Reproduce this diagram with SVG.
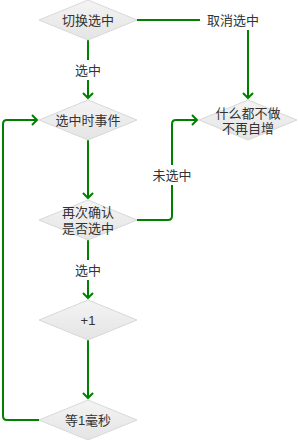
<svg xmlns="http://www.w3.org/2000/svg" width="298" height="440" viewBox="0 0 298 440">
<style>
.node polygon{fill:url(#g);stroke:#d8d8d8;stroke-width:1}
text{font-family:"Liberation Sans","Noto Sans CJK SC",sans-serif;font-size:13px;fill:#333;text-anchor:middle;dominant-baseline:central}
.edge{fill:none;stroke:#008000;stroke-width:2;stroke-linejoin:round}
.lbg{fill:#fff}
</style>
<defs>
<linearGradient id="g" x1="0" y1="0" x2="0" y2="1">
<stop offset="0" stop-color="#f4f4f4"/>
<stop offset="1" stop-color="#e4e4e4"/>
</linearGradient>
<marker id="arr" markerUnits="userSpaceOnUse" viewBox="-8 -7 10 14" markerWidth="10" markerHeight="14" refX="0" refY="0" orient="auto">
<path d="M-5,-5 L0,0 L-5,5" fill="none" stroke="#008000" stroke-width="2"/>
</marker>
</defs>
<g id="connectors">
<path class="edge" d="M137,20 H248 V98" marker-end="url(#arr)"/>
<path class="edge" d="M88,40 V98" marker-end="url(#arr)"/>
<path class="edge" d="M88,140 V198" marker-end="url(#arr)"/>
<path class="edge" d="M137,220 H168 Q172,220 172,216 V124 Q172,120 176,120 H197" marker-end="url(#arr)"/>
<path class="edge" d="M88,240 V298" marker-end="url(#arr)"/>
<path class="edge" d="M88,340 V398" marker-end="url(#arr)"/>
<path class="edge" d="M39,420 H7 Q3,420 3,416 V124 Q3,120 7,120 H37" marker-end="url(#arr)"/>
<rect class="lbg" x="200" y="10" width="66" height="20"/>
<text x="233" y="20">取消选中</text>
<rect class="lbg" x="72" y="60" width="32" height="20"/>
<text x="88" y="70">选中</text>
<rect class="lbg" x="151" y="165" width="42" height="20"/>
<text x="172" y="175">未选中</text>
<rect class="lbg" x="72" y="260" width="32" height="20"/>
<text x="88" y="270">选中</text>
</g>
<g id="n1" class="node"><polygon points="88,0 137,20 88,40 39,20"/><text x="88" y="20">切换选中</text></g>
<g id="n2" class="node"><polygon points="88,100 137,120 88,140 39,120"/><text x="88" y="120">选中时事件</text></g>
<g id="n3" class="node"><polygon points="248,100 297,120 248,140 199,120"/><text x="248" y="113">什么都不做</text><text x="248" y="128">不再自增</text></g>
<g id="n4" class="node"><polygon points="88,200 137,220 88,240 39,220"/><text x="88" y="212">再次确认</text><text x="88" y="228">是否选中</text></g>
<g id="n5" class="node"><polygon points="88,300 137,320 88,340 39,320"/><text x="88" y="320">+1</text></g>
<g id="n6" class="node"><polygon points="88,400 137,420 88,440 39,420"/><text x="88" y="420">等1毫秒</text></g>
</svg>
